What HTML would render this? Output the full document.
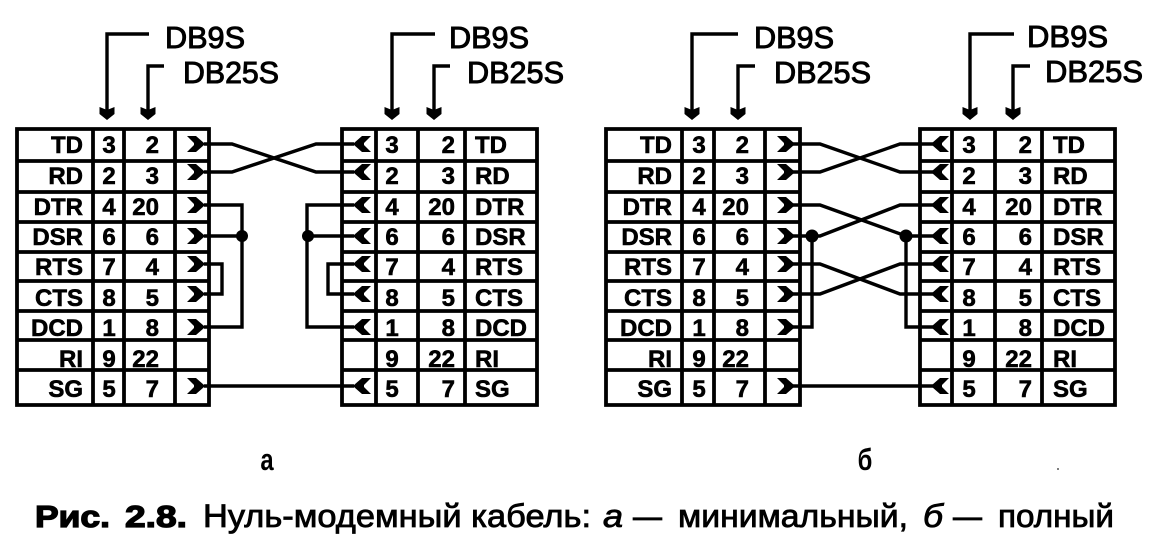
<!DOCTYPE html>
<html><head><meta charset="utf-8"><style>
html,body{margin:0;padding:0;background:#fff}
svg{display:block}
text{font-family:"Liberation Sans",sans-serif;fill:#000}
.c{font-size:24px;font-weight:bold;stroke:#000;stroke-width:.6}
.m{text-anchor:middle}.e{text-anchor:end}
.h{font-size:31px;stroke:#000;stroke-width:1}
.g{stroke:#000;stroke-width:3.8;fill:none}
.w{stroke:#000;stroke-width:3.4;fill:none}
.t{font-size:32px;stroke:#000;stroke-width:.8}
.b{font-size:31px;font-weight:bold;stroke:#000;stroke-width:1.3}
</style></head><body>
<svg width="1166" height="546" viewBox="0 0 1166 546" xmlns="http://www.w3.org/2000/svg">
<rect width="1166" height="546" fill="#fff"/>
<defs>
<path id="r" d="M-16-8 L-7-8 L1-1 L1 1 L-7 8 L-16 8 L-9 1 L-9-1Z" fill="#000"/>
<path id="l" d="M16-8 L7-8 L-1-1 L-1 1 L7 8 L16 8 L9 1 L9-1Z" fill="#000"/>
<path id="d" d="M-7.5-5 L0-2 L7.5-5 L7.5 2 L0 8 L-7.5 2Z" fill="#000"/>
</defs>

<!-- Arrows -->
<path class="w" d="M149 34H107V112M164 66H148V112M435 34H392V112M450 66H434V112M738 34H692V112M755 66H738V112M1014 34H970V112M1030 66H1013V112"/>
<use href="#d" x="107" y="112"/><use href="#d" x="148" y="112"/><use href="#d" x="392" y="112"/><use href="#d" x="434" y="112"/><use href="#d" x="692" y="112"/><use href="#d" x="738" y="112"/><use href="#d" x="970" y="112"/><use href="#d" x="1013" y="112"/>
<text class="h" x="165" y="48" textLength="80" lengthAdjust="spacingAndGlyphs">DB9S</text><text class="h" x="183" y="83" textLength="96" lengthAdjust="spacingAndGlyphs">DB25S</text>
<text class="h" x="449" y="48" textLength="80" lengthAdjust="spacingAndGlyphs">DB9S</text><text class="h" x="467" y="83" textLength="97" lengthAdjust="spacingAndGlyphs">DB25S</text>
<text class="h" x="754" y="48" textLength="80" lengthAdjust="spacingAndGlyphs">DB9S</text><text class="h" x="774" y="83" textLength="97" lengthAdjust="spacingAndGlyphs">DB25S</text>
<text class="h" x="1027" y="47" textLength="81" lengthAdjust="spacingAndGlyphs">DB9S</text><text class="h" x="1045" y="82" textLength="98" lengthAdjust="spacingAndGlyphs">DB25S</text>

<!-- Table grids -->
<path class="g" d="M17 129H209V405H17ZM17 161H209M17 192H209M17 222H209M17 252H209M17 281H209M17 311H209M17 340H209M17 370H209M93 129V405M124 129V405M175 129V405"/>
<path class="g" d="M342 129H537V405H342ZM342 161H537M342 192H537M342 222H537M342 252H537M342 281H537M342 311H537M342 340H537M342 370H537M376 129V405M418 129V405M465 129V405"/>
<path class="g" d="M606 129H800V405H606ZM606 161H800M606 192H800M606 222H800M606 252H800M606 281H800M606 311H800M606 340H800M606 370H800M682 129V405M714 129V405M765 129V405"/>
<path class="g" d="M920 129H1115V405H920ZM920 161H1115M920 192H1115M920 222H1115M920 252H1115M920 281H1115M920 311H1115M920 340H1115M920 370H1115M952 129V405M995 129V405M1042 129V405"/>

<!-- Chevrons -->
<use href="#r" x="203" y="144"/><use href="#r" x="203" y="172"/><use href="#r" x="203" y="205"/><use href="#r" x="203" y="236"/><use href="#r" x="203" y="264"/><use href="#r" x="203" y="294"/><use href="#r" x="203" y="327"/><use href="#r" x="203" y="386"/>
<use href="#l" x="355" y="144"/><use href="#l" x="355" y="172"/><use href="#l" x="355" y="205"/><use href="#l" x="355" y="236"/><use href="#l" x="355" y="264"/><use href="#l" x="355" y="294"/><use href="#l" x="355" y="327"/><use href="#l" x="355" y="386"/>
<use href="#r" x="793" y="144"/><use href="#r" x="793" y="172"/><use href="#r" x="793" y="205"/><use href="#r" x="793" y="236"/><use href="#r" x="793" y="264"/><use href="#r" x="793" y="294"/><use href="#r" x="793" y="327"/><use href="#r" x="793" y="386"/>
<use href="#l" x="933" y="144"/><use href="#l" x="933" y="172"/><use href="#l" x="933" y="205"/><use href="#l" x="933" y="236"/><use href="#l" x="933" y="264"/><use href="#l" x="933" y="294"/><use href="#l" x="933" y="327"/><use href="#l" x="933" y="386"/>

<!-- Wires a -->
<path class="w" d="M204 144H232L316 172H354M204 172H232L316 144H354"/>
<path class="w" d="M204 205H242V327H204M204 236H242M204 264H222V294H204M204 386H354"/>
<path class="w" d="M354 205H307V327H354M354 236H307M354 264H328V294H354"/>
<circle cx="242" cy="236" r="6"/><circle cx="308" cy="236" r="6"/>

<!-- Wires b -->
<path class="w" d="M793 144H820L900 172H933M793 172H820L900 144H933"/>
<path class="w" d="M793 205H820L906 236H933M793 236H820L900 205H933"/>
<path class="w" d="M793 264H820L900 294H933M793 294H820L900 264H933"/>
<path class="w" d="M812 236V327H793M906 236V327H933M793 386H933"/>
<circle cx="812" cy="236" r="6.5"/><circle cx="906" cy="236" r="6.5"/>

<g class="c">
<!-- Left a -->
<text class="e" x="83" y="153">TD</text><text class="e" x="83" y="184">RD</text><text class="e" x="83" y="215">DTR</text><text class="e" x="83" y="245">DSR</text><text class="e" x="83" y="275">RTS</text><text class="e" x="83" y="306">CTS</text><text class="e" x="83" y="336">DCD</text><text class="e" x="83" y="367">RI</text><text class="e" x="83" y="397">SG</text>
<text class="m" x="109" y="153">3</text><text class="m" x="109" y="184">2</text><text class="m" x="109" y="215">4</text><text class="m" x="109" y="245">6</text><text class="m" x="109" y="275">7</text><text class="m" x="109" y="306">8</text><text class="m" x="109" y="336">1</text><text class="m" x="109" y="367">9</text><text class="m" x="109" y="397">5</text>
<text class="e" x="159" y="153">2</text><text class="e" x="159" y="184">3</text><text class="e" x="159" y="215">20</text><text class="e" x="159" y="245">6</text><text class="e" x="159" y="275">4</text><text class="e" x="159" y="306">5</text><text class="e" x="159" y="336">8</text><text class="e" x="159" y="367">22</text><text class="e" x="159" y="397">7</text>

<!-- Right a -->
<text class="m" x="392" y="153">3</text><text class="m" x="392" y="184">2</text><text class="m" x="392" y="215">4</text><text class="m" x="392" y="245">6</text><text class="m" x="392" y="275">7</text><text class="m" x="392" y="306">8</text><text class="m" x="392" y="336">1</text><text class="m" x="392" y="367">9</text><text class="m" x="392" y="397">5</text>
<text class="e" x="455" y="153">2</text><text class="e" x="455" y="184">3</text><text class="e" x="455" y="215">20</text><text class="e" x="455" y="245">6</text><text class="e" x="455" y="275">4</text><text class="e" x="455" y="306">5</text><text class="e" x="455" y="336">8</text><text class="e" x="455" y="367">22</text><text class="e" x="455" y="397">7</text>
<text x="475" y="153">TD</text><text x="475" y="184">RD</text><text x="475" y="215">DTR</text><text x="475" y="245">DSR</text><text x="475" y="275">RTS</text><text x="475" y="306">CTS</text><text x="475" y="336">DCD</text><text x="475" y="367">RI</text><text x="475" y="397">SG</text>

<!-- Left b -->
<text class="e" x="672" y="153">TD</text><text class="e" x="672" y="184">RD</text><text class="e" x="672" y="215">DTR</text><text class="e" x="672" y="245">DSR</text><text class="e" x="672" y="275">RTS</text><text class="e" x="672" y="306">CTS</text><text class="e" x="672" y="336">DCD</text><text class="e" x="672" y="367">RI</text><text class="e" x="672" y="397">SG</text>
<text class="m" x="699" y="153">3</text><text class="m" x="699" y="184">2</text><text class="m" x="699" y="215">4</text><text class="m" x="699" y="245">6</text><text class="m" x="699" y="275">7</text><text class="m" x="699" y="306">8</text><text class="m" x="699" y="336">1</text><text class="m" x="699" y="367">9</text><text class="m" x="699" y="397">5</text>
<text class="e" x="749" y="153">2</text><text class="e" x="749" y="184">3</text><text class="e" x="749" y="215">20</text><text class="e" x="749" y="245">6</text><text class="e" x="749" y="275">4</text><text class="e" x="749" y="306">5</text><text class="e" x="749" y="336">8</text><text class="e" x="749" y="367">22</text><text class="e" x="749" y="397">7</text>

<!-- Right b -->
<text class="m" x="969" y="153">3</text><text class="m" x="969" y="184">2</text><text class="m" x="969" y="215">4</text><text class="m" x="969" y="245">6</text><text class="m" x="969" y="275">7</text><text class="m" x="969" y="306">8</text><text class="m" x="969" y="336">1</text><text class="m" x="969" y="367">9</text><text class="m" x="969" y="397">5</text>
<text class="e" x="1032" y="153">2</text><text class="e" x="1032" y="184">3</text><text class="e" x="1032" y="215">20</text><text class="e" x="1032" y="245">6</text><text class="e" x="1032" y="275">4</text><text class="e" x="1032" y="306">5</text><text class="e" x="1032" y="336">8</text><text class="e" x="1032" y="367">22</text><text class="e" x="1032" y="397">7</text>
<text x="1053" y="153">TD</text><text x="1053" y="184">RD</text><text x="1053" y="215">DTR</text><text x="1053" y="245">DSR</text><text x="1053" y="275">RTS</text><text x="1053" y="306">CTS</text><text x="1053" y="336">DCD</text><text x="1053" y="367">RI</text><text x="1053" y="397">SG</text>
</g>

<!-- Sub-labels -->
<text font-size="28" font-weight="bold" text-anchor="middle" transform="translate(267 470) scale(.85 1.1)">а</text>
<text font-size="28" font-weight="bold" text-anchor="middle" transform="translate(865 470) scale(.85 1.1)">б</text>

<!-- Caption -->
<text class="b" x="35" y="527" textLength="75" lengthAdjust="spacingAndGlyphs">Рис.</text>
<text class="b" x="125" y="527" textLength="62" lengthAdjust="spacingAndGlyphs">2.8.</text>
<text class="t" x="203" y="527" textLength="388" lengthAdjust="spacingAndGlyphs">Нуль-модемный кабель:</text>
<text class="t" x="603" y="527" font-style="italic" textLength="20" lengthAdjust="spacingAndGlyphs">а</text>
<text class="t" x="633" y="527" textLength="29" lengthAdjust="spacingAndGlyphs">—</text>
<text class="t" x="678" y="527" textLength="230" lengthAdjust="spacingAndGlyphs">минимальный,</text>
<text class="t" x="923" y="527" font-style="italic" textLength="20" lengthAdjust="spacingAndGlyphs">б</text>
<text class="t" x="953" y="527" textLength="29" lengthAdjust="spacingAndGlyphs">—</text>
<text class="t" x="998" y="527" textLength="116" lengthAdjust="spacingAndGlyphs">полный</text>
<circle cx="1058" cy="469" r="1" fill="#555"/>
</svg>
</body></html>
